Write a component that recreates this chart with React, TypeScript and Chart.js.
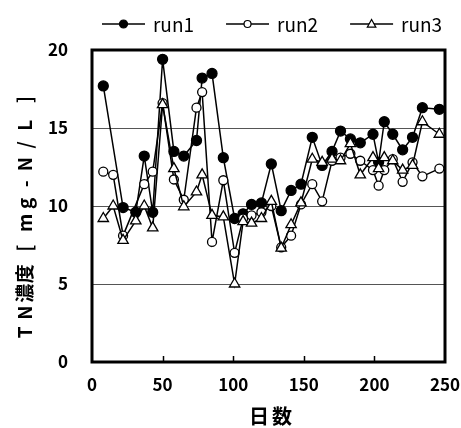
import React, { useEffect, useRef } from 'react';
import { Chart, registerables } from 'chart.js';

Chart.register(...registerables);

// ---- data ----
const days = [8, 15, 22, 31, 37, 43, 50, 58, 65, 74, 78, 85, 93, 101, 107, 113, 120, 127, 134, 141, 148, 156, 163, 170, 176, 183, 190, 199, 203, 207, 213, 220, 227, 234, 246];
const run1: (number | null)[] = [17.7, null, 9.9, 9.6, 13.2, 9.6, 19.4, 13.5, 13.2, 14.2, 18.2, 18.5, 13.1, 9.2, 9.5, 10.1, 10.2, 12.7, 9.7, 11.0, 11.4, 14.4, 12.6, 13.5, 14.8, 14.3, 14.05, 14.6, 12.8, 15.4, 14.6, 13.6, 14.4, 16.3, 16.2];
const run2: (number | null)[] = [12.2, 12.0, 8.1, null, 11.4, 12.2, 16.6, 11.7, 10.4, 16.3, 17.3, 7.7, 11.65, 7.0, 9.2, 9.4, 9.6, 10.0, 7.35, 8.1, 10.1, 11.4, 10.3, 12.9, 13.1, 13.35, 12.9, 12.3, 11.3, 12.3, 13.0, 11.55, 12.8, 11.9, 12.4];
const run3: (number | null)[] = [9.2, 10.0, 7.8, 9.05, 10.0, 8.6, 16.5, 12.4, 9.95, 10.9, 12.0, 9.4, 9.3, 5.0, 9.0, 8.9, 9.2, 10.3, 7.3, 8.8, 10.2, 13.0, 12.8, 13.0, 12.9, 14.0, 12.0, 13.1, 12.4, 13.1, 12.9, 12.3, 12.6, 15.4, 14.6];
const seriesNames = ['run1', 'run2', 'run3'];
const xTitle = '日数';
const yTitle = 'TN濃度 [ mg-N/L ]';
const xMin = 0, xMax = 250, xStep = 50;
const yMin = 0, yMax = 20, yStep = 5;

const FONT = '"Noto Sans CJK JP", "Noto Sans", sans-serif';

type Marker = 'filled' | 'open' | 'triangle';
const markers: Marker[] = ['filled', 'open', 'triangle'];

function toPoints(vals: (number | null)[]) {
  const pts: { x: number; y: number }[] = [];
  vals.forEach((v, i) => {
    if (v !== null) pts.push({ x: days[i], y: v });
  });
  return pts;
}

function drawMarker(ctx: CanvasRenderingContext2D, kind: Marker, x: number, y: number, r: number) {
  ctx.beginPath();
  if (kind === 'triangle') {
    ctx.moveTo(x, y - r);
    ctx.lineTo(x + r * 0.95, y + r * 0.7);
    ctx.lineTo(x - r * 0.95, y + r * 0.7);
    ctx.closePath();
  } else {
    ctx.arc(x, y, r, 0, Math.PI * 2);
  }
  ctx.fillStyle = kind === 'filled' ? '#000' : '#fff';
  ctx.fill();
  ctx.lineWidth = 1.2;
  ctx.strokeStyle = '#000';
  ctx.stroke();
}

// draws text with each non-space character centred in a fixed-size cell
function drawCells(ctx: CanvasRenderingContext2D, text: string, cx: number, cy: number, cell: number, spaceCell: number, rotate: boolean) {
  const chars = Array.from(text);
  const cw = chars.map((c) => (c === ' ' ? spaceCell : cell));
  const total = cw.reduce((a, b) => a + b, 0);
  ctx.save();
  ctx.translate(cx, cy);
  if (rotate) ctx.rotate(-Math.PI / 2);
  ctx.textBaseline = 'middle';
  ctx.textAlign = 'center';
  let x = -total / 2;
  chars.forEach((c, i) => {
    if (c !== ' ') ctx.fillText(c, x + cw[i] / 2, 0);
    x += cw[i];
  });
  ctx.restore();
}

const decorPlugin = {
  id: 'decor',
  beforeDatasetsDraw(chart: any) {
    const { ctx, chartArea: a, scales } = chart;
    ctx.save();
    ctx.strokeStyle = '#000';
    ctx.lineWidth = 1.5;
    for (const t of scales.x.ticks) {
      if (t.value <= xMin || t.value >= xMax) continue;
      const px = Math.round(scales.x.getPixelForValue(t.value)) + 0.5;
      ctx.beginPath();
      ctx.moveTo(px, a.bottom);
      ctx.lineTo(px, a.bottom - 6);
      ctx.stroke();
    }
    ctx.lineWidth = 3;
    ctx.strokeRect(a.left, a.top, a.right - a.left, a.bottom - a.top);
    ctx.restore();
  },
  afterDraw(chart: any) {
    const { ctx, chartArea: a } = chart;
    ctx.save();
    // legend
    let x = 102;
    const ly = 24;
    seriesNames.forEach((name, i) => {
      ctx.strokeStyle = '#000';
      ctx.lineWidth = 1.5;
      ctx.beginPath();
      ctx.moveTo(x, ly);
      ctx.lineTo(x + 43, ly);
      ctx.stroke();
      drawMarker(ctx, markers[i], x + 21.5, ly, markers[i] === 'triangle' ? 4.5 : markers[i] === 'filled' ? 4 : 3.5);
      ctx.fillStyle = '#000';
      ctx.textAlign = 'left';
      ctx.textBaseline = 'middle';
      ctx.font = `19px ${FONT}`;
      ctx.fillText(name, x + 51, ly + 1);
      x += 51 + ctx.measureText(name).width + 32;
    });
    // axis titles
    ctx.fillStyle = '#000';
    ctx.font = `bold 19px ${FONT}`;
    drawCells(ctx, yTitle, 25, (a.top + a.bottom) / 2 + 10, 19.5, 6, true);
    ctx.font = `bold 20px ${FONT}`;
    drawCells(ctx, xTitle, (a.left + a.right) / 2 + 2, 416, 23, 6, false);
    ctx.restore();
  },
};

export default function App() {
  const ref = useRef<HTMLCanvasElement | null>(null);
  useEffect(() => {
    if (!ref.current) return;
    const series = [run1, run2, run3];
    const chart = new Chart(ref.current, {
      type: 'line',
      data: {
        datasets: series.map((vals, i) => ({
          label: seriesNames[i],
          data: toPoints(vals),
          borderColor: '#000',
          borderWidth: 1.5,
          backgroundColor: markers[i] === 'filled' ? '#000' : '#fff',
          pointBackgroundColor: markers[i] === 'filled' ? '#000' : '#fff',
          pointBorderColor: '#000',
          pointBorderWidth: 1.3,
          pointStyle: markers[i] === 'triangle' ? 'triangle' : 'circle',
          pointRadius: markers[i] === 'triangle' ? 6 : markers[i] === 'filled' ? 5 : 4.5,
          pointHoverRadius: 5,
          tension: 0,
          fill: false,
          order: 3 - i,
        })),
      },
      options: {
        animation: false,
        responsive: false,
        devicePixelRatio: 1,
        layout: { padding: { top: 50, right: 16, left: 0, bottom: 0 } },
        plugins: { legend: { display: false }, tooltip: { enabled: false } },
        scales: {
          x: {
            type: 'linear',
            min: xMin,
            max: xMax,
            ticks: {
              stepSize: xStep,
              color: '#000',
              font: { family: FONT, size: 17, weight: 'bold' },
              padding: 12,
              maxRotation: 0,
            },
            grid: { display: false, drawTicks: false },
            border: { display: false },
            afterFit(s: any) {
              s.height = 66;
              s.paddingLeft = 0;
              s.paddingRight = 0;
            },
          },
          y: {
            min: yMin,
            max: yMax,
            ticks: {
              stepSize: yStep,
              color: '#000',
              font: { family: FONT, size: 17, weight: 'bold' },
              padding: 24,
            },
            grid: {
              color: (c: any) => (c.tick && (c.tick.value === yMin || c.tick.value === yMax) ? 'rgba(0,0,0,0)' : '#555'),
              lineWidth: 1,
              drawTicks: false,
            },
            border: { display: false },
            afterFit(s: any) {
              s.width = 92;
              s.paddingTop = 0;
              s.paddingBottom = 0;
            },
          },
        },
      } as any,
      plugins: [decorPlugin],
    });
    return () => chart.destroy();
  }, []);
  return (
    <div style={{ position: 'fixed', left: 0, top: 0, width: 461, height: 428, background: '#fff' }}>
      <canvas ref={ref} width={461} height={428} />
    </div>
  );
}
